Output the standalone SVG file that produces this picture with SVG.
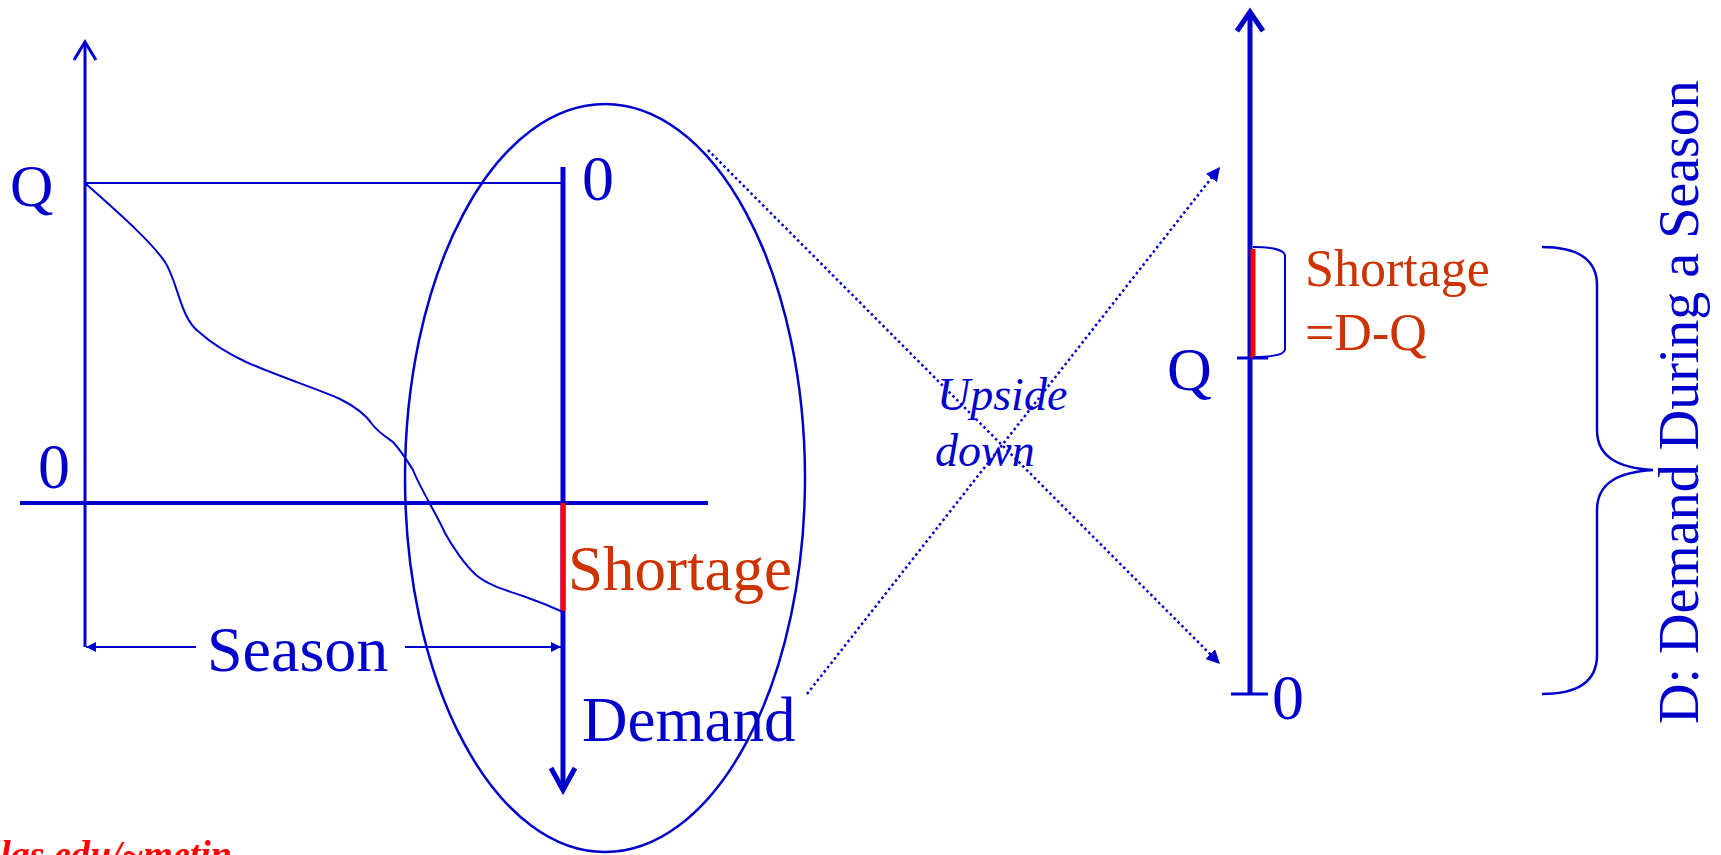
<svg xmlns="http://www.w3.org/2000/svg" width="1721" height="855" viewBox="0 0 1721 855">
<defs>
<style>
.t{font-family:"Liberation Serif","Times New Roman",serif;fill:#0000CC}
.o{fill:#CC3300}
.ln{stroke:#0000CC;fill:none}
.dot{stroke:#0000CC;fill:none;stroke-width:2.5;stroke-dasharray:2.5 3}
.red{stroke:#FF0000;stroke-width:5}
</style>
<marker id="fa" viewBox="0 0 10 10" refX="10" refY="5" markerWidth="10" markerHeight="10" markerUnits="userSpaceOnUse" orient="auto">
<path d="M0,0 L10,5 L0,10 Z" fill="#0000CC"/>
</marker>
<marker id="da" viewBox="0 0 10 10" refX="10" refY="5" markerWidth="14" markerHeight="14" markerUnits="userSpaceOnUse" orient="auto">
<path d="M0,0 L10,5 L0,10 Z" fill="#0000CC"/>
</marker>
</defs>
<rect width="1721" height="855" fill="#FFFFFF"/>

<g id="left-chart">
<line class="ln" x1="85" y1="647" x2="85" y2="43" stroke-width="3"/>
<path class="ln" d="M74,60 L85,42 L96,60" stroke-width="3"/>
<line class="ln" x1="85" y1="183" x2="563" y2="183" stroke-width="2"/>
<line class="ln" x1="20" y1="503" x2="708" y2="503" stroke-width="4"/>
<line class="ln" x1="563" y1="167" x2="563" y2="790" stroke-width="5"/>
<path class="ln" d="M551,768 L563,790 L575,768" stroke-width="5"/>
<line class="red" x1="563" y1="503" x2="563" y2="611"/>
<path class="ln" stroke-width="2" d="M85,183 C115,210 150,240 165,262 C178,282 180,318 199,332 C210,342 225,352 246,362 C275,375 320,390 340,399 C358,408 366,415 372,424 C378,432 386,437 393,442 C402,452 408,462 413,470 C420,488 437,515 445,533 C452,546 465,565 476,575 C488,585 505,590 523,596 C540,602 552,607 563,612"/>
<text class="t" x="10" y="206" font-size="60">Q</text>
<text class="t" x="38" y="488" font-size="64">0</text>
<text class="t" x="582" y="200" font-size="64">0</text>
<text class="t o" x="568" y="590" font-size="63">Shortage</text>
<text class="t" x="582" y="741" font-size="63">Demand</text>
</g>

<g id="season">
<line class="ln" x1="196" y1="647" x2="86" y2="647" stroke-width="2" marker-end="url(#fa)"/>
<line class="ln" x1="405" y1="647" x2="561" y2="647" stroke-width="2" marker-end="url(#fa)"/>
<text class="t" x="207" y="671" font-size="64">Season</text>
</g>

<g id="ellipse">
<ellipse class="ln" cx="605" cy="478" rx="200" ry="374" stroke-width="2.5"/>
</g>

<g id="connectors">
<line class="dot" x1="708" y1="150" x2="1220" y2="664" marker-end="url(#da)"/>
<line class="dot" x1="807" y1="694" x2="1220" y2="167" marker-end="url(#da)"/>
</g>

<g id="upside-label">
<text class="t" x="937" y="410" font-size="46" font-style="italic">Upside</text>
<text class="t" x="935" y="466" font-size="46" font-style="italic">down</text>
</g>

<g id="right-axis">
<line class="ln" x1="1250" y1="694" x2="1250" y2="13" stroke-width="5"/>
<path class="ln" d="M1237,31 L1250,12 L1263,31" stroke-width="5"/>
<line class="ln" x1="1231" y1="694" x2="1268" y2="694" stroke-width="3"/>
<line class="ln" x1="1237" y1="358" x2="1268" y2="358" stroke-width="3"/>
<line class="red" x1="1253" y1="249" x2="1253" y2="358"/>
<path class="ln" stroke-width="2" d="M1253,247 C1272,247 1285,250 1285,256 L1285,349 C1285,355 1272,357 1253,357"/>
<text class="t" x="1167" y="390" font-size="62">Q</text>
<text class="t" x="1272" y="719" font-size="64">0</text>
<text class="t o" x="1305" y="286" font-size="52">Shortage</text>
<text class="t o" x="1305" y="350" font-size="52">=D-Q</text>
</g>

<g id="demand-brace">
<path class="ln" stroke-width="2.5" d="M1542,247 C1578,247 1597,260 1597,285 L1597,430 C1597,458 1620,468 1653,470 C1620,472 1597,482 1597,510 L1597,655 C1597,682 1578,694 1542,694"/>
<text class="t" transform="translate(1698,724) rotate(-90)" font-size="56">D: Demand During a Season</text>
</g>

<g id="footer">
<text x="232" y="867" font-size="38" font-family="Liberation Serif, serif" font-style="italic" font-weight="bold" fill="#FF0000" text-anchor="end">utdallas.edu/~metin</text>
</g>
</svg>
